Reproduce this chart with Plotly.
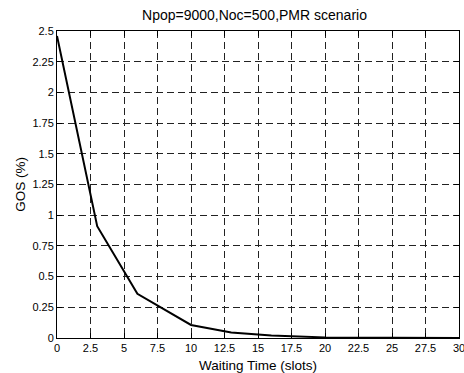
import plotly.graph_objects as go

wait_slots = [0, 3, 6, 10, 13, 16, 20, 25, 30]
gos_pct = [2.46, 0.91, 0.36, 0.106, 0.045, 0.02, 0.005, 0.001, 0.0]
x_ticks = [0, 2.5, 5, 7.5, 10, 12.5, 15, 17.5, 20, 22.5, 25, 27.5, 30]
y_ticks = [0, 0.25, 0.5, 0.75, 1, 1.25, 1.5, 1.75, 2, 2.25, 2.5]

FONT = "Liberation Sans, Arial"

fig = go.Figure()
fig.add_trace(go.Scatter(x=wait_slots, y=gos_pct, mode="lines",
                         line=dict(color="black", width=2), showlegend=False))

axis_common = dict(showline=True, linecolor="black", linewidth=1, mirror="ticks",
                   ticks="inside", ticklen=5, tickcolor="black",
                   showgrid=True, gridcolor="#222222", griddash="7px,4px", gridwidth=1,
                   zeroline=False, ticklabeloverflow="allow", automargin=False,
                   tickfont=dict(family=FONT, size=11, color="black"))

fig.update_xaxes(range=[0, 30], tickvals=x_ticks, ticktext=[f"{v:g}" for v in x_ticks],
                 title=dict(text="Waiting Time (slots)", standoff=9,
                            font=dict(family=FONT, size=13.5, color="black")),
                 **axis_common)
fig.update_yaxes(range=[0, 2.5], tickvals=y_ticks, ticktext=[f"{v:g}" for v in y_ticks],
                 title=dict(text="GOS (%)", standoff=3,
                            font=dict(family=FONT, size=13.5, color="black")),
                 **axis_common)

fig.update_layout(
    width=464, height=373,
    margin=dict(l=57, r=5, t=31, b=35),
    paper_bgcolor="white", plot_bgcolor="white",
    title=dict(text="Npop=9000,Noc=500,PMR scenario", x=0.5485, xanchor="center",
               y=0.96, yanchor="middle",
               font=dict(family=FONT, size=14, color="black")),
)

fig.write_html("out.html")
